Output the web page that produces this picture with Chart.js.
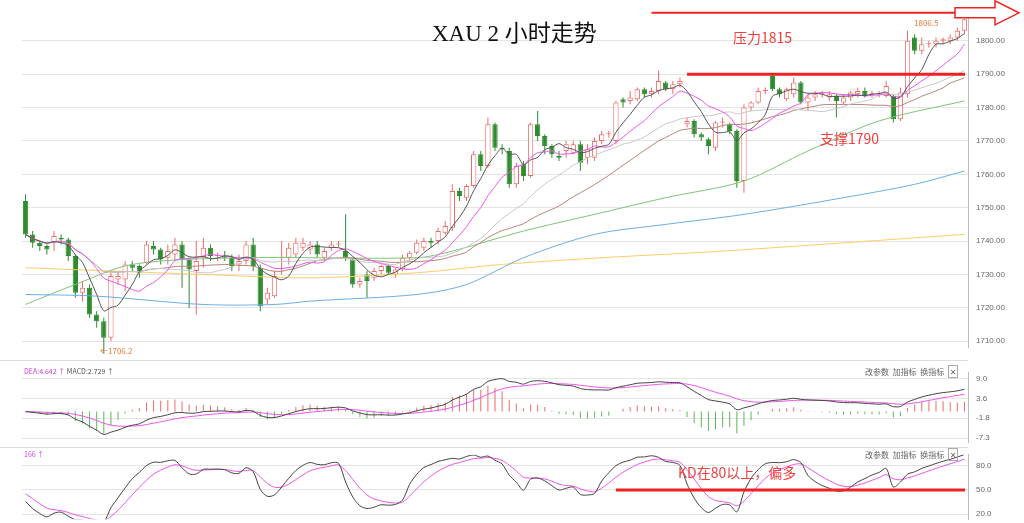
<!DOCTYPE html>
<html>
<head>
<meta charset="utf-8">
<script src="https://cdn.jsdelivr.net/npm/chart.js@4.4.1/dist/chart.umd.min.js"></script>
<style>
  body { margin: 0; background: #fff; width: 1024px; height: 523px; overflow: hidden; position: relative; font-family: "Noto Sans CJK SC", "DejaVu Sans", sans-serif; }
  canvas { position: absolute; left: 0; }
  .t { position: absolute; white-space: nowrap; }
  .tools { position: absolute; left: 865px; font-size: 8px; color: #666; }
  .sep { position: absolute; left: 0; width: 968px; height: 1px; background: #ddd; }
</style>
</head>
<body>
<canvas id="mainChart" width="1024" height="360" style="top:0"></canvas>
<canvas id="macdChart" width="1024" height="95" style="top:360px"></canvas>
<canvas id="kdChart" width="1024" height="90" style="top:442px"></canvas>
<div class="sep" style="top:360px"></div>
<div class="sep" style="top:447px"></div>

<div class="t" style="left:432px;top:14px;font-size:23px;font-family:'Liberation Serif','Noto Sans CJK SC',serif;color:#111">XAU 2 小时走势</div>
<div class="t" style="left:733px;top:27px;font-size:14px;color:#f04040">压力1815</div>
<div class="t" style="left:820px;top:128px;font-size:14px;color:#f04040">支撑1790</div>
<div class="t" style="left:678px;top:462px;font-size:14px;color:#f04040">KD在80以上，偏多</div>
<div class="t" style="left:100px;top:345px;font-size:8px;color:#e87a30">←1706.2</div>
<div class="t" style="left:914px;top:17px;font-size:8px;color:#e87a30">1806.5</div>
<div class="t" style="left:24px;top:366px;font-size:7px;color:#d040d0">DEA:4.642 ↑ <span style="color:#555">MACD:2.729 ↑</span></div>
<div class="t" style="left:24px;top:449px;font-size:7px;color:#d040d0">166 ↑</div>
<div class="tools" style="top:366px">改参数 &nbsp;加指标 &nbsp;换指标 &nbsp;<span style="border:1px solid #aaa;padding:0 1px">✕</span></div>
<div class="tools" style="top:449px">改参数 &nbsp;加指标 &nbsp;换指标 &nbsp;<span style="border:1px solid #aaa;padding:0 1px">✕</span></div>

<script>
// 2h candles (red = up, green = down)
const opens = [1752,1742,1739.5,1738.5,1739.5,1741,1740.5,1735.5,1724.5,1726,1718,1716,1711,1728.5,1728.5,1733,1732.5,1733.5,1738.5,1737.5,1735,1736,1739,1734.5,1731,1735,1738,1735.5,1735.5,1735,1733,1734,1739,1732,1722.5,1723.5,1735,1735,1736,1738,1737.5,1739,1735,1738,1739,1737,1734.5,1727,1730,1729,1731,1732.5,1730,1731.5,1735,1736.5,1738,1740,1740,1742.5,1744,1755,1753,1756.5,1766,1762.5,1775,1768,1767,1757,1763,1759.5,1775,1771.5,1768.5,1765.5,1767,1766.5,1769,1765,1765,1770,1772,1770,1782.5,1782,1782.5,1785.5,1784,1785,1787.5,1785.5,1787,1775,1776,1772,1770.5,1768,1775.5,1775,1773,1758,1780,1781.5,1785,1789.5,1785.5,1782.5,1784,1787.5,1781.5,1783,1784,1783,1783.5,1781.5,1783,1784,1785,1784,1784,1783.5,1783.5,1776.5,1784,1801,1797,1799,1799,1800,1800,1801,1803];
const closes = [1742,1739.5,1738.5,1737.5,1741.5,1740.5,1735.5,1724.5,1726,1718,1716,1711,1729.5,1729.5,1733,1732,1730.5,1739,1737.5,1734.5,1737,1739,1734.5,1731.5,1734,1738,1735.5,1735.5,1735,1732.5,1734,1739,1732.5,1720.5,1724.5,1729.5,1735,1738,1739.5,1739.5,1739,1736,1737,1739,1739,1735,1727,1728,1728,1731,1732.5,1730.5,1731.5,1735,1736.5,1739.5,1740,1739.5,1743,1744.5,1755,1753.5,1756.5,1766,1762.5,1775,1768,1767.5,1757,1762.5,1759.5,1775,1771.5,1768.5,1766,1765,1769,1769,1763.5,1767.5,1770,1772,1772,1781.5,1781.5,1783,1785.5,1784,1785,1788,1785.5,1787,1788,1776,1772,1771,1768.5,1775.5,1775.5,1773,1758,1780,1781.5,1785,1785,1785.5,1784,1785.5,1787.5,1781.5,1783,1784,1784,1784,1782,1783,1784.5,1785,1783.5,1784,1784,1786.5,1776.5,1784.5,1800,1797,1799,1799,1800,1800.5,1801,1803,1806.5];
const highs = [1754,1743,1740,1739,1743,1742,1741,1736,1728,1727,1719,1717,1730.5,1731,1734,1734,1733,1740,1740,1738,1739,1741,1740,1735,1740,1741,1739,1736.5,1737,1736,1736,1740,1741,1733,1726,1731,1740,1739.5,1741,1741,1740,1740,1738,1740,1740,1748,1735,1729,1731,1732,1733,1733,1732,1736,1737,1740.5,1741,1741,1744,1746,1757,1756,1757,1767,1767,1777,1775.5,1769,1768,1763.5,1764,1775.5,1779,1772,1769,1767,1770,1770,1770,1769,1771,1773,1773,1782,1783,1785,1786,1786,1786,1791,1788,1788,1789,1777,1776.5,1772.5,1771,1776,1777,1775.5,1773.5,1781,1782,1786,1786,1790,1786,1786,1789,1788,1784,1785,1785,1785,1784,1784,1785,1786,1786,1785,1785,1788,1784,1786,1803,1802,1801,1800,1801,1801,1802,1804,1806.5];
const lows = [1741,1738,1737,1736,1737,1739,1734,1723,1722,1717,1714,1706.2,1710,1727,1725,1731,1729,1733,1736,1733,1733,1734,1726,1720,1718,1732,1734,1734,1734,1731,1731,1733,1731,1719,1721,1723,1730,1733,1735,1737,1736,1735,1734,1737,1738,1734,1726,1726,1723,1728,1730,1730,1729,1731,1734,1736,1737,1738,1739,1742,1743,1752,1752,1756,1761,1762,1767,1766,1756,1756,1758,1759,1770,1766,1765,1764,1765,1766,1761,1763,1764,1769,1771,1769,1780,1781,1782,1783,1783,1784,1785,1784,1786,1774,1771,1770,1766,1767,1774,1772,1756,1754.5,1779,1781,1784,1785,1783,1782,1783,1781,1779,1782,1783,1782,1777,1781,1782,1783,1783,1783,1783,1783,1775.5,1776,1783,1796,1796,1798,1798,1799,1799,1800,1802];

// long moving averages, key points (index: value)
const ma60Pts = {0:1721,7:1727,15:1733,30:1735,55:1735,60:1737,70:1743,80:1748,90:1753,101:1758,110:1767,120:1776,132:1782};
const ma120Pts = {0:1724,10:1723.5,25:1721,35:1721,40:1722,55:1724,62:1727,70:1735,80:1742,90:1745,101:1748,115:1753,125:1757,132:1761};
const ma250Pts = {0:1732,25:1730,40:1729,55:1730.5,67:1733,81:1735,98:1737,132:1742};

const priceTicks = [1710,1720,1730,1740,1750,1760,1770,1780,1790,1800];
const macdTicks = [-7.3,-1.8,3.6,9.0];
const kdTicks = [20,50,80];

const N = closes.length;
const labels = closes.map((_, i) => i);

function ma(n) {
  return closes.map((_, i) => {
    const s = closes.slice(Math.max(0, i - n + 1), i + 1);
    return s.reduce((a, b) => a + b, 0) / s.length;
  });
}
function sparse(pts) { return labels.map(i => pts[i] !== undefined ? pts[i] : null); }
function ema(arr, n) {
  const k = 2 / (n + 1); let prev = arr[0];
  return arr.map(v => (prev = prev + k * (v - prev)));
}
const ema12 = ema(closes, 12), ema26 = ema(closes, 26);
const dif = ema12.map((v, i) => v - ema26[i]);
const dea = ema(dif, 9);
const hist = dif.map((v, i) => 2 * (v - dea[i]));
let kPrev = 50, dPrev = 50;
const kLine = [], dLine = [];
closes.forEach((c, i) => {
  const hh = Math.max(...highs.slice(Math.max(0, i - 8), i + 1));
  const ll = Math.min(...lows.slice(Math.max(0, i - 8), i + 1));
  const rsv = hh === ll ? 50 : (c - ll) / (hh - ll) * 100;
  kPrev = kPrev * 2 / 3 + rsv / 3; dPrev = dPrev * 2 / 3 + kPrev / 3;
  kLine.push(kPrev); dLine.push(dPrev);
});

const up = closes.map((c, i) => c >= opens[i]);
const RED = '#f06a6a', GREEN = '#2e8b2e';
const grid = { color: '#e4e4e4', borderDash: [2, 3], drawTicks: false };

function xAxis() { return { display: false, offset: true, grid: { display: false } }; }
function yAxis(min, max, ticks, fmt) {
  return {
    position: 'right', min, max,
    afterBuildTicks: ax => { ax.ticks = ticks.map(v => ({ value: v })); },
    afterFit: ax => { ax.width = 56; },
    border: { display: true, color: '#bbb' },
    grid,
    ticks: { color: '#666', font: { size: 8 }, padding: 8, callback: fmt }
  };
}
function line(data, color, order) {
  return { type: 'line', data, borderColor: color, borderWidth: 1, pointRadius: 0, tension: 0.3, spanGaps: true, order: order || 0 };
}

// red annotation lines + arrow, drawn at price / KD values through the scales
const annot = {
  id: 'annot',
  afterDatasetsDraw(chart, args, opts) {
    const { ctx, scales: { x, y } } = chart;
    ctx.save();
    ctx.strokeStyle = '#ee2222';
    opts.lines.forEach(l => {
      ctx.lineWidth = l.w;
      const py = y.getPixelForValue(l.v);
      ctx.beginPath(); ctx.moveTo(x.getPixelForValue(l.from), py); ctx.lineTo(l.to, py); ctx.stroke();
    });
    if (opts.arrow) {
      const py = y.getPixelForValue(opts.arrow);
      ctx.lineWidth = 1.5; ctx.fillStyle = '#fff';
      ctx.beginPath();
      ctx.moveTo(955, py - 5); ctx.lineTo(995, py - 5); ctx.lineTo(995, py - 12);
      ctx.lineTo(1019, py); ctx.lineTo(995, py + 12); ctx.lineTo(995, py + 5); ctx.lineTo(955, py + 5);
      ctx.closePath(); ctx.fill(); ctx.stroke();
    }
    ctx.restore();
  }
};

const common = {
  responsive: false, animation: false,
  layout: { padding: { left: 22, right: 0, top: 0, bottom: 0 } },
  plugins: { legend: { display: false }, tooltip: { enabled: false } }
};

new Chart(document.getElementById('mainChart'), {
  type: 'bar',
  data: {
    labels,
    datasets: [
      line(ma(5), '#555555'), line(ma(10), '#ee55ee'), line(ma(20), '#c8c8c8'), line(ma(30), '#b58478'),
      line(sparse(ma60Pts), '#7cc576'), line(sparse(ma120Pts), '#6aaee8'), line(sparse(ma250Pts), '#ffcc66'),
      { data: labels.map(i => [Math.min(opens[i], closes[i]), Math.max(opens[i], closes[i]) + (opens[i] === closes[i] ? 0.3 : 0)]),
        backgroundColor: up.map(u => u ? '#ffffff' : GREEN), borderColor: up.map(u => u ? RED : GREEN),
        borderWidth: 1, borderSkipped: false, grouped: false, barPercentage: 0.75, categoryPercentage: 1, order: 1, clip: false },
      { data: labels.map(i => [lows[i], highs[i]]), backgroundColor: up.map(u => u ? RED : GREEN),
        maxBarThickness: 1, grouped: false, order: 2, clip: false }
    ]
  },
  options: {
    ...common,
    scales: { x: xAxis(), y: yAxis(1708.2, 1808.4, priceTicks, v => v.toFixed(2)) },
    plugins: { ...common.plugins, annot: { lines: [{ v: 1808.4, from: 88, to: 965, w: 2 }, { v: 1790, from: 93, to: 965, w: 3 }], arrow: 1808.4 } }
  },
  plugins: [annot]
});

new Chart(document.getElementById('macdChart'), {
  type: 'bar',
  data: {
    labels,
    datasets: [
      line(dif, '#444444'), line(dea, '#ee55ee'),
      { data: hist, backgroundColor: hist.map(v => v >= 0 ? RED : '#5cb85c'), maxBarThickness: 1, order: 1 }
    ]
  },
  options: { ...common, layout: { padding: { left: 22, top: 2, bottom: 0 } },
    scales: { x: xAxis(), y: yAxis(-8.4, 10.66, macdTicks, v => v.toFixed(1)) } }
});

new Chart(document.getElementById('kdChart'), {
  type: 'line',
  data: { labels, datasets: [line(kLine, '#444444'), line(dLine, '#ee55ee')] },
  options: {
    ...common,
    scales: { x: xAxis(), y: yAxis(13.9, 93.5, kdTicks, v => v.toFixed(1)) },
    plugins: { ...common.plugins, annot: { lines: [{ v: 50, from: 83, to: 965, w: 3 }] } }
  },
  plugins: [annot]
});
</script>
</body>
</html>
